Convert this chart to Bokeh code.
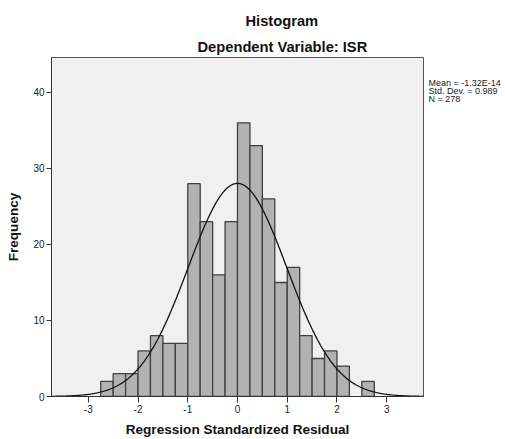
import numpy as np
from bokeh.plotting import figure
from bokeh.models import Title, FixedTicker, Range1d, ColumnDataSource, LinearAxis
from bokeh.embed import file_html
from bokeh.resources import INLINE

# ---- data ----
bin_left = [-2.75, -2.5, -2.25, -2.0, -1.75, -1.5, -1.25, -1.0, -0.75, -0.5, -0.25,
            0.0, 0.25, 0.5, 0.75, 1.0, 1.25, 1.5, 1.75, 2.0, 2.25, 2.5]
counts = [2, 3, 3, 6, 8, 7, 7, 28, 23, 16, 23,
          36, 33, 26, 15, 17, 8, 5, 6, 4, 0, 2]
bin_width = 0.25
stat_mean = -1.32e-14
stat_sd = 0.989
stat_n = 278
x_ticks = [-3, -2, -1, 0, 1, 2, 3]
x_tick_labels = ["-3", "-2", "-1", "0", "1", "2", "3"]
y_ticks = [0, 10, 20, 30, 40]
stats_lines = ["Mean = -1.32E-14", "Std. Dev. = 0.989", "N = 278"]
stats_y = [41.2, 40.2, 39.2]
x_lo, x_hi = -3.74, 3.74
y_lo, y_hi = 0, 44.6

FONT = "Liberation Sans"

p = figure(width=505, height=439, output_backend="svg", toolbar_location=None,
           x_range=Range1d(x_lo, x_hi), y_range=Range1d(y_lo, y_hi),
           min_border_left=51, min_border_right=82, min_border_top=57,
           min_border_bottom=41)
p.title.visible = False
p.background_fill_color = "#f0f0f0"
p.border_fill_color = "white"
p.outline_line_color = "#555555"
p.outline_line_width = 1
p.xgrid.visible = False
p.ygrid.visible = False

# bars
src = ColumnDataSource(dict(
    left=[l for l, c in zip(bin_left, counts) if c > 0],
    right=[l + bin_width for l, c in zip(bin_left, counts) if c > 0],
    top=[c for c in counts if c > 0],
))
p.quad(left="left", right="right", top="top", bottom=0, source=src,
       fill_color="#b2b2b2", line_color="#404040", line_width=1.3)

# fitted normal curve (from the reported mean, sd and N)
xs = np.linspace(x_lo, x_hi, 400)
ys = stat_n * bin_width / (stat_sd * np.sqrt(2 * np.pi)) * np.exp(-0.5 * ((xs - stat_mean) / stat_sd) ** 2)
p.line(xs, ys, line_color="#111111", line_width=1.3)

# axes
for ax in (p.xaxis[0], p.yaxis[0]):
    ax.axis_line_color = "#333333"
    ax.axis_line_width = 1
    ax.major_tick_line_color = "#333333"
    ax.minor_tick_line_color = None
    ax.major_tick_in = 0
    ax.major_label_text_font = FONT
    ax.major_label_text_font_size = "10px"
    ax.major_label_text_color = "#222222"
    ax.axis_label_text_font = FONT
    ax.axis_label_text_font_size = "13.6px"
    ax.axis_label_text_font_style = "bold"
    ax.axis_label_text_color = "#111111"

p.xaxis.ticker = FixedTicker(ticks=x_ticks)
p.xaxis.major_label_overrides = {v: t for v, t in zip(x_ticks, x_tick_labels)}
p.yaxis.ticker = FixedTicker(ticks=y_ticks)
p.xaxis.major_tick_out = 6
p.yaxis.major_tick_out = 5
p.xaxis.major_label_standoff = 2
p.yaxis.major_label_standoff = 2
p.xaxis.axis_label = "Regression Standardized Residual"
p.yaxis.axis_label = "Frequency"
p.xaxis.axis_label_standoff = 6
p.yaxis.axis_label_standoff = 9

# statistics text on the right, drawn as an unstyled axis
stats_axis = LinearAxis(ticker=FixedTicker(ticks=stats_y),
                        major_label_overrides={v: t for v, t in zip(stats_y, stats_lines)})
stats_axis.axis_line_color = None
stats_axis.major_tick_line_color = None
stats_axis.minor_tick_line_color = None
stats_axis.major_tick_out = 0
stats_axis.major_tick_in = 0
stats_axis.major_label_standoff = 5
stats_axis.major_label_text_font = FONT
stats_axis.major_label_text_font_size = "9px"
stats_axis.major_label_text_color = "#222222"
p.add_layout(stats_axis, "right")

# titles
sub = Title(text="Dependent Variable: ISR", align="left", offset=146,
            text_font=FONT, text_font_size="14.7px", text_font_style="bold",
            text_color="#111111", standoff=5)
main = Title(text="Histogram", align="left", offset=194,
             text_font=FONT, text_font_size="14.7px", text_font_style="bold",
             text_color="#111111", standoff=12)
p.add_layout(sub, "above")
p.add_layout(main, "above")

open("out.html", "w").write(file_html(p, INLINE))
